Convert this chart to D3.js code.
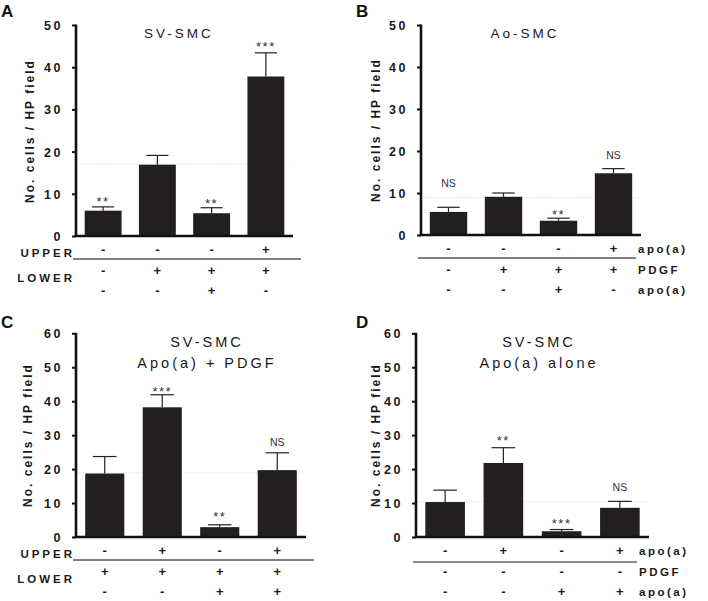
<!DOCTYPE html>
<html>
<head>
<meta charset="utf-8">
<script src="https://cdn.jsdelivr.net/npm/d3@7"></script>
<style>
  html, body { margin: 0; padding: 0; background: #fff; }
  svg { display: block; font-family: "Liberation Sans", Arial, sans-serif; }
</style>
</head>
<body>
<svg id="chart" width="708" height="601"></svg>
<script>
// ---------------- DATA ----------------
const categories = ["g1", "g2", "g3", "g4"];
const yTicksA = [0, 10, 20, 30, 40, 50];
const yTicksC = [0, 10, 20, 30, 40, 50, 60];

// Panel A : SV-SMC
const valuesA = [6.0, 16.9, 5.4, 37.8];
const errorsA = [0.9, 2.2, 1.3, 5.6];
const marksA = ["**", "", "**", "***"];
const markYA = [9.0, null, 8.5, 45.7];
const signsA = [["-", "-", "-", "+"], ["-", "+", "+", "+"], ["-", "-", "+", "-"]];
const rowLabelsA = ["UPPER", "LOWER"];
const refA = 17.0;

// Panel B : Ao-SMC
const valuesB = [5.5, 9.1, 3.4, 14.7];
const errorsB = [1.1, 0.9, 0.6, 1.1];
const marksB = ["NS", "", "**", "NS"];
const markYB = [12.4, null, 5.8, 18.9];
const signsB = [["-", "-", "-", "+"], ["-", "+", "+", "+"], ["-", "-", "+", "-"]];
const rowLabelsB = ["apo(a)", "PDGF", "apo(a)"];
const refB = 8.9;

// Panel C : SV-SMC Apo(a) + PDGF
const valuesC = [18.7, 38.2, 2.9, 19.7];
const errorsC = [5.0, 3.7, 0.7, 5.1];
const marksC = ["", "***", "**", "NS"];
const markYC = [null, 43.9, 7.1, 28.0];
const signsC = [["-", "+", "-", "+"], ["+", "+", "+", "+"], ["-", "-", "+", "+"]];
const rowLabelsC = ["UPPER", "LOWER"];
const refC = 18.9;

// Panel D : SV-SMC Apo(a) alone
const valuesD = [10.3, 21.8, 1.7, 8.6];
const errorsD = [3.5, 4.5, 0.5, 1.9];
const marksD = ["", "**", "***", "NS"];
const markYD = [null, 29.5, 4.9, 14.7];
const signsD = [["-", "+", "-", "+"], ["-", "-", "-", "-"], ["-", "-", "+", "+"]];
const rowLabelsD = ["apo(a)", "PDGF", "apo(a)"];
const refD = 10.4;

const yLabel = "No. cells / HP field";

// ---------------- LAYOUT ----------------
const panels = [
  { letter: "A", lx: 1, ly: 17, x0: 76, x1: 293, yTop: 25, yBot: 236, ticks: yTicksA,
    values: valuesA, errors: errorsA, marks: marksA, markY: markYA, signs: signsA,
    rowLabels: rowLabelsA, labelSide: "left", ref: refA,
    titles: ["SV-SMC"], titleX: 179, titleY: [38], titleSize: 13.5, ylx: 34, yly: 131, lineColor: "#000" },
  { letter: "B", lx: 356, ly: 17, x0: 421, x1: 641, yTop: 25, yBot: 235, ticks: yTicksA,
    values: valuesB, errors: errorsB, marks: marksB, markY: markYB, signs: signsB,
    rowLabels: rowLabelsB, labelSide: "right", labelX: 638, ref: refB,
    titles: ["Ao-SMC"], titleX: 525, titleY: [38], titleSize: 13.5, ylx: 380, yly: 130, lineColor: "#000" },
  { letter: "C", lx: 1, ly: 328, x0: 76, x1: 306, yTop: 333.3, yBot: 537, ticks: yTicksC,
    values: valuesC, errors: errorsC, marks: marksC, markY: markYC, signs: signsC,
    rowLabels: rowLabelsC, labelSide: "left", ref: refC,
    titles: ["SV-SMC", "Apo(a) + PDGF"], titleX: 207, titleY: [347, 368], titleSize: 14.5, ylx: 32, yly: 435, lineColor: "#000" },
  { letter: "D", lx: 356, ly: 328, x0: 416, x1: 649, yTop: 333.3, yBot: 537, ticks: yTicksC,
    values: valuesD, errors: errorsD, marks: marksD, markY: markYD, signs: signsD,
    rowLabels: rowLabelsD, labelSide: "right", labelX: 639, ref: refD,
    titles: ["SV-SMC", "Apo(a) alone"], titleX: 539, titleY: [347, 368], titleSize: 14.5, ylx: 380, yly: 435, lineColor: "#666" }
];

const svg = d3.select("#chart");
const barColor = "#231f20";

panels.forEach(p => {
  const g = svg.append("g");
  const yMax = p.ticks[p.ticks.length - 1];
  const y = d3.scaleLinear().domain([0, yMax]).range([p.yBot, p.yTop]);
  const x = d3.scaleBand().domain(categories).range([p.x0, p.x1]).paddingInner(0.32).paddingOuter(0.16);
  const data = categories.map((c, i) => ({ c, v: p.values[i], e: p.errors[i], m: p.marks[i], my: p.markY[i] }));

  // panel letter
  g.append("text").attr("x", p.lx).attr("y", p.ly)
    .attr("font-size", 17).attr("font-weight", "bold").attr("fill", "#111").text(p.letter);

  // dotted reference line
  g.append("line")
    .attr("x1", p.x0).attr("x2", p.x1 - 4)
    .attr("y1", y(p.ref)).attr("y2", y(p.ref))
    .attr("stroke", "#cfcfcf").attr("stroke-width", 0.8).attr("stroke-dasharray", "1,1.5");

  // error bars (upper only)
  const eb = g.append("g").selectAll("g").data(data).join("g");
  eb.append("line")
    .attr("x1", d => x(d.c) + x.bandwidth() / 2).attr("x2", d => x(d.c) + x.bandwidth() / 2)
    .attr("y1", d => y(d.v)).attr("y2", d => y(d.v + d.e))
    .attr("stroke", "#222").attr("stroke-width", 1.2);
  eb.append("line")
    .attr("x1", d => x(d.c) + x.bandwidth() * 0.2).attr("x2", d => x(d.c) + x.bandwidth() * 0.8)
    .attr("y1", d => y(d.v + d.e)).attr("y2", d => y(d.v + d.e))
    .attr("stroke", "#222").attr("stroke-width", 1.2);

  // bars
  g.append("g").selectAll("rect").data(data).join("rect")
    .attr("x", d => x(d.c)).attr("width", x.bandwidth())
    .attr("y", d => y(d.v)).attr("height", d => y(0) - y(d.v))
    .attr("fill", barColor);

  // significance marks
  g.append("g").selectAll("text").data(data.filter(d => d.m)).join("text")
    .attr("x", d => x(d.c) + x.bandwidth() / 2)
    .attr("y", d => y(d.my))
    .attr("dy", d => d.m === "NS" ? "0.36em" : "0.62em")
    .attr("text-anchor", "middle")
    .attr("font-size", d => d.m === "NS" ? 10.5 : 13)
    .attr("letter-spacing", d => d.m === "NS" ? 0 : 1.5)
    .attr("fill", "#333")
    .text(d => d.m);

  // y axis
  const yAxis = d3.axisLeft(y).tickValues(p.ticks).tickSize(4).tickSizeOuter(0).tickPadding(9);
  const ya = g.append("g").attr("transform", `translate(${p.x0},0)`).call(yAxis);
  ya.select(".domain").attr("stroke", "#111").attr("stroke-width", 2.6)
    .attr("d", `M0,${p.yTop - 0.5}V${p.yBot + 1}`);
  ya.selectAll(".tick line").attr("stroke", "#111").attr("stroke-width", 2);
  ya.selectAll(".tick text")
    .attr("font-family", "Liberation Sans, Arial, sans-serif")
    .attr("font-size", 12.5).attr("font-weight", "bold").attr("letter-spacing", 2.5)
    .attr("fill", "#1a1a1a").attr("dy", "0.36em");

  // x axis baseline
  g.append("line")
    .attr("x1", p.x0 - 1.3).attr("x2", p.x1)
    .attr("y1", p.yBot).attr("y2", p.yBot)
    .attr("stroke", "#111").attr("stroke-width", 2.6);

  // y label
  g.append("text")
    .attr("transform", `translate(${p.ylx},${p.yly}) rotate(-90)`)
    .attr("text-anchor", "middle")
    .attr("font-size", 12).attr("font-weight", "bold").attr("letter-spacing", 2)
    .attr("fill", "#1a1a1a")
    .text(yLabel);

  // titles
  p.titles.forEach((t, i) => {
    g.append("text").attr("x", p.titleX).attr("y", p.titleY[i])
      .attr("text-anchor", "middle").attr("font-size", p.titleSize)
      .attr("letter-spacing", 3).attr("fill", "#1a1a1a").text(t);
  });

  // sign rows
  const rowOff = [13, 34, 54];
  p.signs.forEach((row, r) => {
    g.append("g").selectAll("text").data(row).join("text")
      .attr("x", (s, i) => x(categories[i]) + x.bandwidth() / 2)
      .attr("y", p.yBot + rowOff[r] + 4.5)
      .attr("text-anchor", "middle").attr("font-size", 13).attr("font-weight", "bold")
      .attr("fill", "#1a1a1a").text(s => s);
  });

  // separator line
  const sepY = p.yBot + 23;
  if (p.labelSide === "left") {
    g.append("line").attr("x1", p.x0 - 3).attr("x2", p.x1 + 8)
      .attr("y1", sepY).attr("y2", sepY).attr("stroke", p.lineColor).attr("stroke-width", 1);
    g.append("text").attr("x", p.x0 - 1).attr("y", p.yBot + 21)
      .attr("text-anchor", "end").attr("font-size", 11.5).attr("font-weight", "bold")
      .attr("letter-spacing", 3).attr("fill", "#1a1a1a").text(p.rowLabels[0]);
    g.append("text").attr("x", p.x0 - 1).attr("y", p.yBot + 46)
      .attr("text-anchor", "end").attr("font-size", 11.5).attr("font-weight", "bold")
      .attr("letter-spacing", 3).attr("fill", "#1a1a1a").text(p.rowLabels[1]);
  } else {
    g.append("line").attr("x1", p.x0 - 3).attr("x2", p.labelX - 2)
      .attr("y1", sepY + (p.lineColor === "#000" ? 0 : 2)).attr("y2", sepY + (p.lineColor === "#000" ? 0 : 2))
      .attr("stroke", p.lineColor).attr("stroke-width", p.lineColor === "#000" ? 1 : 1.5);
    p.rowLabels.forEach((lab, r) => {
      g.append("text").attr("x", p.labelX).attr("y", p.yBot + rowOff[r] + 4.5)
        .attr("font-size", 11.5).attr("font-weight", "bold")
        .attr("letter-spacing", 2.5).attr("fill", "#1a1a1a").text(lab);
    });
  }
});
</script>
</body>
</html>
